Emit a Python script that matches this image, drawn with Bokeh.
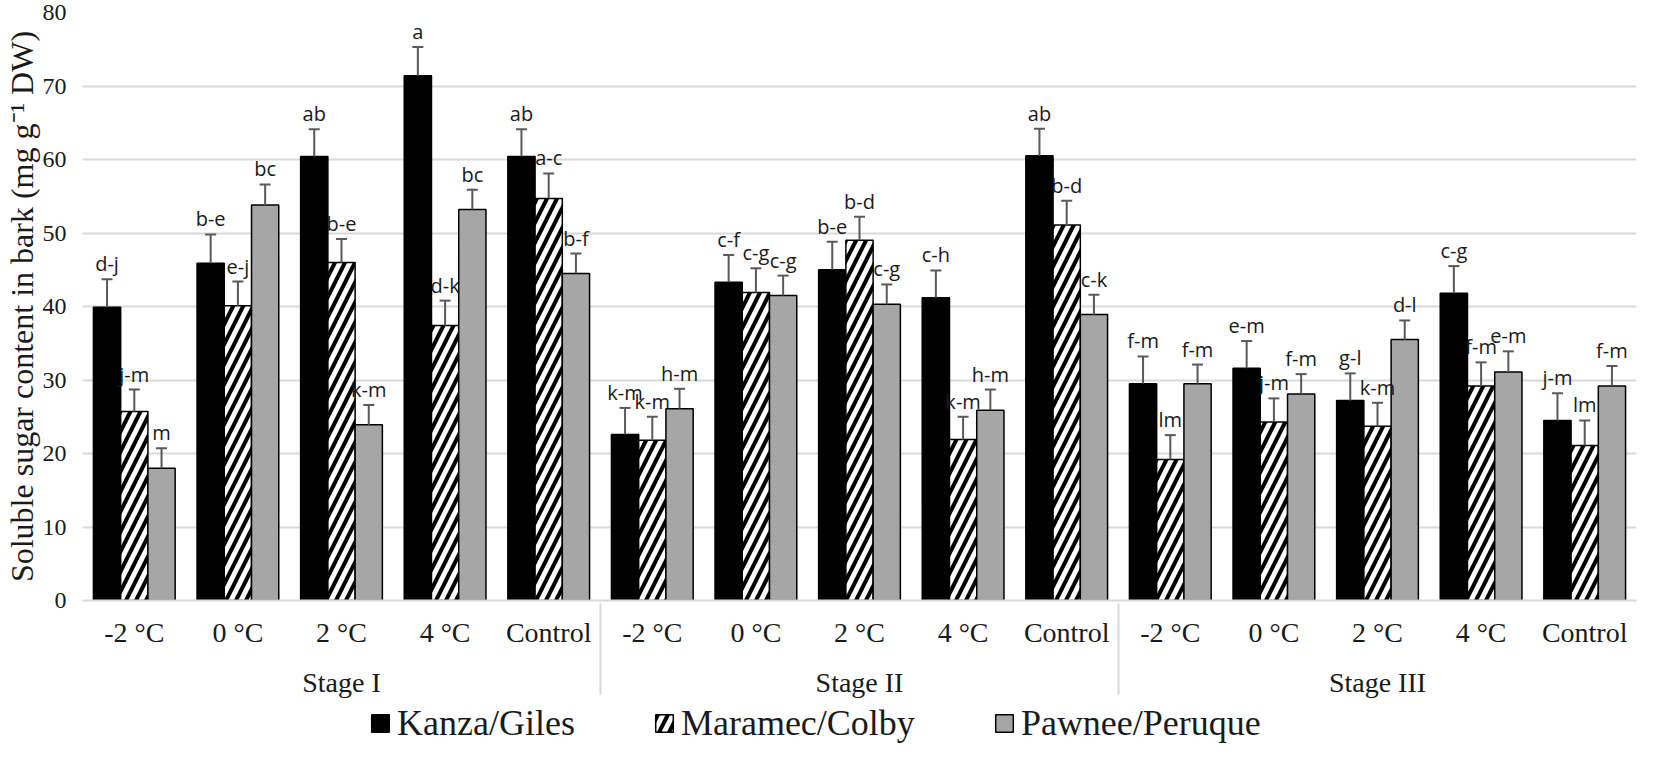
from bokeh.plotting import figure
from bokeh.layouts import column
from bokeh.models import (FactorRange, Range1d, ColumnDataSource, Legend, LegendItem,
                          FixedTicker)
from bokeh.transform import dodge
from bokeh.core.properties import value
from bokeh.embed import file_html
from bokeh.resources import INLINE

# ---------------- data ----------------
stages = ["Stage I", "Stage II", "Stage III"]
temps = ["-2 °C", "0 °C", "2 °C", "4 °C", "Control"]
series_names = ["Kanza/Giles", "Maramec/Colby", "Pawnee/Peruque"]

kanza = [39.9, 45.9, 60.4, 71.4, 60.4, 22.6, 43.3, 45.0, 41.2, 60.5, 29.5, 31.6, 27.2, 41.8, 24.5]
kanza_err = [3.8, 3.9, 3.7, 3.9, 3.7, 3.6, 3.7, 3.8, 3.7, 3.7, 3.7, 3.7, 3.7, 3.7, 3.7]
kanza_lab = ["d-j", "b-e", "ab", "a", "ab", "k-m", "c-f", "b-e", "c-h", "ab",
             "f-m", "e-m", "g-l", "c-g", "j-m"]

maramec = [25.7, 40.1, 46.0, 37.4, 54.7, 21.8, 41.9, 49.0, 21.9, 51.1, 19.2, 24.3, 23.7, 29.2, 21.1]
maramec_err = [3.0, 3.3, 3.2, 3.4, 3.4, 3.2, 3.3, 3.2, 3.1, 3.3, 3.3, 3.2, 3.2, 3.2, 3.4]
maramec_lab = ["j-m", "e-j", "b-e", "d-k", "a-c", "k-m", "c-g", "b-d", "k-m", "b-d",
               "lm", "j-m", "k-m", "f-m", "lm"]

pawnee = [18.0, 53.8, 23.9, 53.2, 44.5, 26.1, 41.5, 40.3, 25.9, 38.9, 29.5, 28.1, 35.5, 31.1, 29.2]
pawnee_err = [2.7, 2.8, 2.7, 2.7, 2.7, 2.7, 2.7, 2.7, 2.8, 2.7, 2.6, 2.7, 2.6, 2.8, 2.7]
pawnee_lab = ["m", "bc", "k-m", "bc", "b-f", "h-m", "c-g", "c-g", "h-m", "c-k",
              "f-m", "f-m", "d-l", "e-m", "f-m"]

y_ticks = [0, 10, 20, 30, 40, 50, 60, 70, 80]
y_label = "Soluble sugar content in bark (mg g\u207b\u00b9 DW)"

# ---------------- styles ----------------
SERIF = "Liberation Serif"
K_STYLE = dict(fill_color="black", line_color="black", line_width=1.5)
M_STYLE = dict(fill_color="white", line_color="black", line_width=1.5,
               hatch_pattern="/", hatch_color="black", hatch_weight=4, hatch_scale=20)
P_STYLE = dict(fill_color="#a6a6a6", line_color="black", line_width=1.5)

# ---------------- main chart ----------------
factors = [(s, t) for s in stages for t in temps]
src = ColumnDataSource(dict(
    x=factors,
    k=kanza, k_top=[v + e for v, e in zip(kanza, kanza_err)], k_lab=kanza_lab,
    m=maramec, m_top=[v + e for v, e in zip(maramec, maramec_err)], m_lab=maramec_lab,
    p=pawnee, p_top=[v + e for v, e in zip(pawnee, pawnee_err)], p_lab=pawnee_lab,
))

xr = FactorRange(*factors, group_padding=0, factor_padding=0, range_padding=0)
p = figure(x_range=xr, y_range=Range1d(0, 80), width=1638, height=700,
           output_backend="svg", toolbar_location=None,
           min_border_left=70, min_border_right=2, min_border_top=12, min_border_bottom=0)

bw = 0.263
offs = [-bw, 0.0, bw]

p.vbar(x=dodge("x", offs[0], range=xr), top="k", width=bw, source=src, **K_STYLE)
p.vbar(x=dodge("x", offs[1], range=xr), top="m", width=bw, source=src, **M_STYLE)
p.vbar(x=dodge("x", offs[2], range=xr), top="p", width=bw, source=src, **P_STYLE)

for off, vcol, tcol, lcol in [(offs[0], "k", "k_top", "k_lab"),
                              (offs[1], "m", "m_top", "m_lab"),
                              (offs[2], "p", "p_top", "p_lab")]:
    xs = dodge("x", off, range=xr)
    p.segment(x0=xs, y0=vcol, x1=xs, y1=tcol, source=src,
              line_color="#595959", line_width=2)
    p.scatter(x=xs, y=tcol, source=src, marker="dash", size=11,
              line_color="#595959", line_width=2)
    p.text(x=xs, y=tcol, text=lcol, source=src, text_align="center",
           text_baseline="bottom", y_offset=-2, text_font=value("Open Sans"),
           text_font_size="20px", text_color="#1a1a1a")

ya = p.yaxis[0]
ya.ticker = FixedTicker(ticks=y_ticks)
ya.axis_line_color = None
ya.major_tick_line_color = None
ya.minor_tick_line_color = None
ya.major_tick_out = 0
ya.major_label_text_font = SERIF
ya.major_label_text_font_size = "24px"
ya.major_label_text_color = "#1a1a1a"
ya.major_label_standoff = 16
ya.axis_label = y_label
ya.axis_label_text_font = SERIF
ya.axis_label_text_font_size = "32px"
ya.axis_label_text_font_style = "normal"
ya.axis_label_text_color = "#1a1a1a"
ya.axis_label_standoff = 0

xa = p.xaxis[0]
xa.axis_line_color = "#d9d9d9"
xa.axis_line_width = 2
xa.major_tick_line_color = None
xa.minor_tick_line_color = None
xa.major_tick_out = 0
xa.major_label_text_font = SERIF
xa.major_label_text_font_size = "28px"
xa.major_label_text_color = "#1a1a1a"
xa.major_label_standoff = 16
xa.group_text_font = SERIF
xa.group_text_font_size = "28px"
xa.group_text_font_style = "normal"
xa.group_text_color = "#1a1a1a"
xa.separator_line_color = "#d9d9d9"
xa.separator_line_width = 2

p.xgrid.grid_line_color = None
p.ygrid.grid_line_color = "#d9d9d9"
p.ygrid.grid_line_width = 2
p.outline_line_color = None

# ---------------- legend strip ----------------
lg = figure(width=1638, height=46, output_backend="svg", toolbar_location=None,
            x_axis_type=None, y_axis_type=None, min_border=0,
            x_range=Range1d(0, 1), y_range=Range1d(0, 1))
lg.outline_line_color = None
lg.grid.grid_line_color = None
# hidden swatch renderers: they only supply the legend glyph styles
lk = lg.vbar(x=[0.5], top=[0], width=0.1, visible=False, **K_STYLE)
lm = lg.vbar(x=[0.5], top=[0], width=0.1, visible=False, **M_STYLE)
lp = lg.vbar(x=[0.5], top=[0], width=0.1, visible=False, **P_STYLE)
legend = Legend(items=[LegendItem(label=series_names[0], renderers=[lk]),
                       LegendItem(label=series_names[1], renderers=[lm]),
                       LegendItem(label=series_names[2], renderers=[lp])],
                orientation="horizontal", location=(287, 2),
                label_text_font=SERIF, label_text_font_size="36px",
                label_text_color="#1a1a1a",
                glyph_width=22, glyph_height=22, label_standoff=6, spacing=78,
                padding=0, margin=0, border_line_color=None,
                background_fill_alpha=0, inactive_fill_alpha=0)
lg.add_layout(legend, "center")

layout = column(p, lg, spacing=0)
open("out.html", "w").write(file_html(layout, INLINE))
